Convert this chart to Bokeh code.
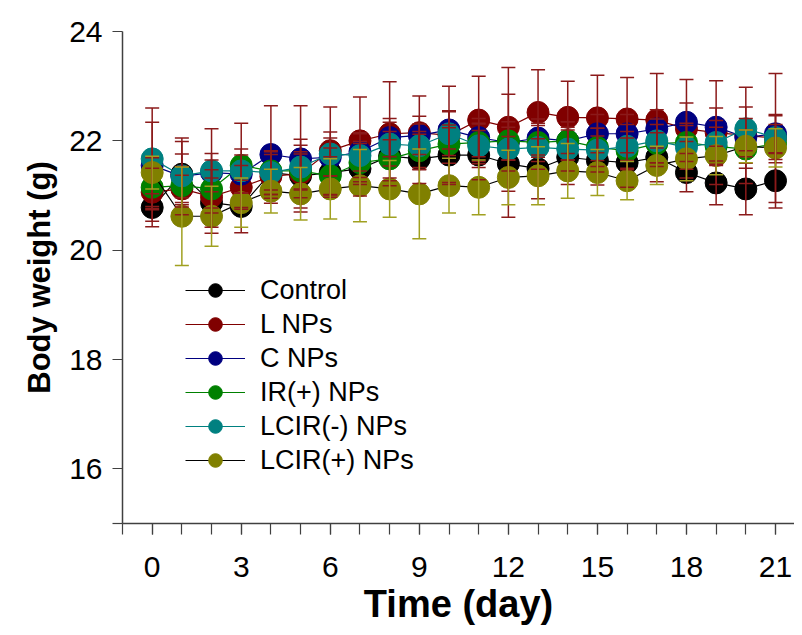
from bokeh.plotting import figure
from bokeh.models import ColumnDataSource, Whisker, TeeHead, FixedTicker, Legend, LegendItem, Range1d
from bokeh.embed import file_html
from bokeh.resources import INLINE

days = list(range(22))

series_names = ["Control", "L NPs", "C NPs", "IR(+) NPs", "LCIR(-) NPs", "LCIR(+) NPs"]

control = [20.78, 21.39, 20.87, 20.80, 21.42, 21.36, 21.42, 21.49, 21.72, 21.67, 21.74,
           21.74, 21.58, 21.49, 21.70, 21.64, 21.60, 21.70, 21.42, 21.23, 21.12, 21.27]
l_nps = [21.06, 21.12, 20.98, 21.15, 21.35, 21.40, 21.82, 22.00, 22.13, 22.15, 22.10,
         22.38, 22.25, 22.52, 22.43, 22.42, 22.40, 22.38, 22.22, 22.15, 22.10, 22.05]
c_nps = [21.55, 21.35, 21.42, 21.39, 21.75, 21.67, 21.70, 21.80, 22.06, 22.10, 22.20,
         22.06, 21.97, 22.05, 22.00, 22.13, 22.13, 22.22, 22.34, 22.25, 22.06, 22.13]
ir_nps = [21.15, 21.18, 21.12, 21.55, 21.45, 21.45, 21.36, 21.60, 21.67, 21.82, 21.94,
          21.97, 22.00, 21.97, 22.00, 21.88, 21.82, 21.95, 21.97, 21.90, 21.85, 21.95]
lcir_minus = [21.67, 21.36, 21.45, 21.45, 21.42, 21.52, 21.76, 21.73, 21.94, 21.91, 22.13,
              21.91, 21.85, 21.88, 21.85, 21.83, 21.90, 22.00, 21.88, 21.97, 22.22, 22.06]
lcir_plus = [21.42, 20.62, 20.62, 20.87, 21.08, 21.03, 21.12, 21.18, 21.12, 21.03, 21.18,
             21.15, 21.33, 21.36, 21.45, 21.42, 21.27, 21.55, 21.67, 21.73, 21.90, 21.87]

sd_control = [0.25, 0.60, 0.45, 0.48, 0.40, 0.40, 0.45, 0.50, 0.45, 0.45, 0.50,
              0.45, 0.50, 0.55, 0.50, 0.45, 0.45, 0.45, 0.35, 0.40, 0.47, 0.50]
sd_l = [0.63, 0.25, 0.67, 0.40, 0.40, 0.63, 0.80, 0.80, 0.95, 0.67, 0.90,
        0.80, 0.60, 0.78, 0.66, 0.78, 0.76, 0.85, 0.90, 0.95, 0.88, 1.18]
sd_c = [0.79, 0.70, 0.35, 0.35, 0.89, 0.97, 0.35, 0.35, 0.35, 0.35, 0.35,
        0.35, 1.37, 0.35, 0.35, 0.35, 0.35, 0.35, 0.35, 0.35, 0.35, 0.35]
sd_ir = [0.35, 0.35, 0.35, 0.77, 0.35, 0.35, 0.35, 0.35, 0.35, 0.35, 0.35,
         0.35, 0.35, 0.35, 0.35, 0.35, 0.35, 0.35, 0.35, 0.35, 0.35, 0.35]
sd_lcir_minus = [0.93, 0.40, 0.77, 0.40, 0.40, 0.40, 0.40, 0.40, 0.40, 0.40, 0.40,
                 0.40, 0.40, 0.40, 0.40, 0.40, 0.40, 0.40, 0.40, 0.40, 0.40, 0.40]
sd_lcir_plus = [0.30, 0.90, 0.55, 0.45, 0.40, 0.48, 0.55, 0.66, 0.52, 0.82, 0.50,
                0.50, 0.50, 0.53, 0.50, 0.42, 0.35, 0.35, 0.40, 0.35, 0.30, 0.35]

x_ticks = [0, 3, 6, 9, 12, 15, 18, 21]
x_minor = list(range(-1, 22))
y_ticks = [16, 18, 20, 22, 24]

values = [control, l_nps, c_nps, ir_nps, lcir_minus, lcir_plus]
sds = [sd_control, sd_l, sd_c, sd_ir, sd_lcir_minus, sd_lcir_plus]
fill_colors = ["#000000", "#800000", "#000080", "#008000", "#008080", "#808000"]
line_colors = ["#000000", "#800000", "#000080", "#008000", "#008080", "#000000"]
err_colors = ["#8b1a1a", "#8b1a1a", "#8b1a1a", "#8b1a1a", "#8b1a1a", "#a0a020"]

FONT = "Liberation Sans"

p = figure(width=794, height=627, output_backend="svg", toolbar_location=None,
           x_range=Range1d(-1, 21.64), y_range=Range1d(15, 24),
           min_border_left=122, min_border_top=31, min_border_right=0, min_border_bottom=104)
p.outline_line_color = None
p.xgrid.visible = False
p.ygrid.visible = False
p.background_fill_color = "white"
p.border_fill_color = "white"

items = []
for name, vals, sd, fc, lc, ec in zip(series_names, values, sds, fill_colors, line_colors, err_colors):
    src = ColumnDataSource(dict(
        x=days, y=vals,
        upper=[v + s for v, s in zip(vals, sd)],
        lower=[v - s for v, s in zip(vals, sd)],
    ))
    ln = p.line("x", "y", source=src, line_color=lc, line_width=1.2)
    sc = p.scatter("x", "y", source=src, size=22, marker="circle",
                   fill_color=fc, line_color=fc, line_width=1)
    w = Whisker(base="x", upper="upper", lower="lower", source=src,
                line_color=ec, line_width=1.5, level="glyph",
                upper_head=TeeHead(size=14, line_color=ec, line_width=1.5),
                lower_head=TeeHead(size=14, line_color=ec, line_width=1.5))
    p.add_layout(w)
    items.append(LegendItem(label=name, renderers=[ln, sc]))

legend = Legend(items=items, location=(63, 46), orientation="vertical",
                padding=0, margin=0, spacing=0,
                glyph_width=60, glyph_height=34, label_height=34,
                label_standoff=15, label_text_font=FONT, label_text_font_size="27px",
                label_text_color="black",
                border_line_color=None, background_fill_alpha=0)
p.add_layout(legend, "center")

xa = p.xaxis[0]
xa.ticker = FixedTicker(ticks=x_ticks, minor_ticks=x_minor)
xa.axis_label = "Time (day)"
ya = p.yaxis[0]
ya.ticker = FixedTicker(ticks=y_ticks, minor_ticks=[15])
ya.axis_label = "Body weight (g)"

for ax in (xa, ya):
    ax.axis_line_color = "#404040"
    ax.axis_line_width = 1.5
    ax.major_tick_line_color = "#404040"
    ax.minor_tick_line_color = "#404040"
    ax.major_tick_line_width = 1.2
    ax.minor_tick_line_width = 1.2
    ax.major_tick_in = 0
    ax.minor_tick_in = 0
    ax.major_label_text_font = FONT
    ax.major_label_text_font_size = "30px"
    ax.major_label_text_color = "black"
    ax.axis_label_text_font = FONT
    ax.axis_label_text_font_style = "bold"
    ax.axis_label_text_color = "black"

xa.major_tick_out = 11
xa.minor_tick_out = 11
xa.major_label_standoff = 22
xa.axis_label_text_font_size = "38px"
xa.axis_label_standoff = 3

ya.major_tick_out = 10
ya.minor_tick_out = 10
ya.major_label_standoff = 10
ya.axis_label_text_font_size = "31px"
ya.axis_label_standoff = 9

open("out.html", "w").write(file_html(p, INLINE))
